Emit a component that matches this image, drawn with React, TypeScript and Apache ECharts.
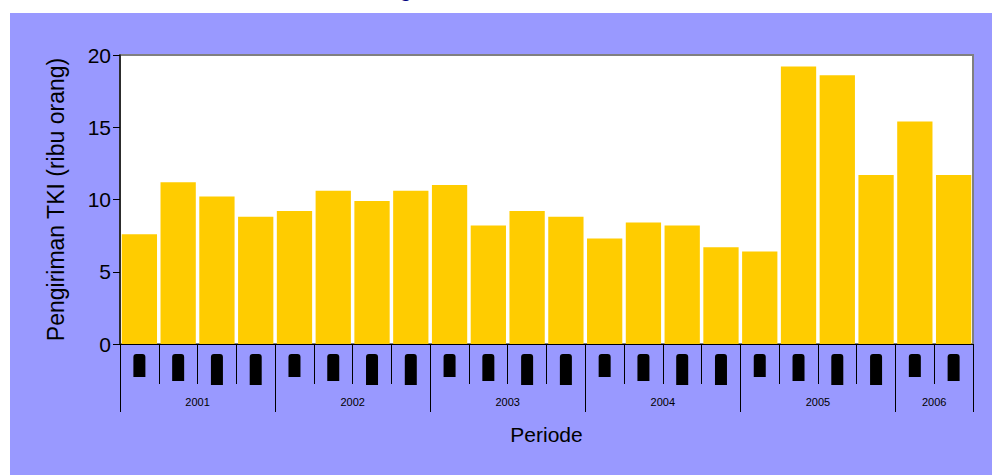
import React, { useEffect, useRef } from "react";
import * as echarts from "echarts";

// Quarterly TKI placements (thousand people), 2001 Q1 – 2006 Q2
const quarterLabels = [
  "I", "II", "III", "IV",
  "I", "II", "III", "IV",
  "I", "II", "III", "IV",
  "I", "II", "III", "IV",
  "I", "II", "III", "IV",
  "I", "II",
];
const tkiValues = [
  7.6, 11.2, 10.2, 8.8,
  9.2, 10.6, 9.9, 10.6,
  11.0, 8.2, 9.2, 8.8,
  7.3, 8.4, 8.2, 6.7,
  6.4, 19.2, 18.6, 11.7,
  15.4, 11.7,
];
const yearLabels = ["2001", "2002", "2003", "2004", "2005", "2006"];
const yearQuarterCounts = [4, 4, 4, 4, 4, 2];
const yTicks = [0, 5, 10, 15, 20];

const FONT = "'Liberation Sans', Arial, sans-serif";

export default function App() {
  const ref = useRef<HTMLDivElement>(null);

  useEffect(() => {
    if (!ref.current) return;
    const chart = echarts.init(ref.current, undefined, { renderer: "svg" });

    // year group boundaries and centres on a 0..n scale
    const boundaries: number[] = [0];
    const centres: number[] = [];
    yearQuarterCounts.forEach((c) => {
      const start = boundaries[boundaries.length - 1];
      centres.push(start + c / 2);
      boundaries.push(start + c);
    });
    const total = boundaries[boundaries.length - 1];

    const blobStyle = (w: number) => ({
      width: w,
      height: 12,
      lineHeight: 12,
      fontSize: 9,
      color: "#000",
      backgroundColor: "#000",
      borderRadius: [0, 3, 3, 0],
      align: "center",
    });
    const quarterStyleName: Record<string, string> = { I: "q1", II: "q2", III: "q3", IV: "q4" };

    chart.setOption({
      animation: false,
      backgroundColor: "#fff",
      textStyle: { fontFamily: FONT },
      graphic: [
        {
          type: "rect",
          z: -100,
          silent: true,
          shape: { x: 10, y: 13, width: 990, height: 470 },
          style: { fill: "#9999FF" },
        },
        {
          type: "text",
          x: 363,
          y: 0,
          silent: true,
          style: {
            text: "Pengiriman TKI",
            fill: "#000080",
            font: `bold 20px ${FONT}`,
            verticalAlign: "bottom",
          },
        },
      ],
      grid: {
        left: 120,
        right: 19,
        top: 55,
        bottom: 131,
        show: true,
        backgroundColor: "#fff",
        borderColor: "#808080",
        borderWidth: 2,
      },
      xAxis: [
        {
          type: "category",
          data: quarterLabels,
          position: "bottom",
          name: "Periode",
          nameLocation: "middle",
          nameGap: 80,
          nameTextStyle: { fontSize: 21, color: "#000", fontFamily: FONT },
          axisLine: { show: true, lineStyle: { color: "#000", width: 1 } },
          axisTick: {
            show: true,
            interval: 0,
            alignWithLabel: false,
            length: 40,
            lineStyle: { color: "#000", width: 1 },
          },
          axisLabel: {
            interval: 0,
            rotate: 90,
            margin: 10,
            formatter: (v: string) => `{${quarterStyleName[v]}|${v}}`,
            rich: {
              q1: blobStyle(23),
              q2: blobStyle(27),
              q3: blobStyle(31),
              q4: blobStyle(31),
            },
          },
          splitLine: { show: false },
        },
        {
          type: "value",
          min: 0,
          max: total,
          position: "bottom",
          axisLine: { show: false },
          axisTick: {
            show: true,
            customValues: boundaries,
            length: 68,
            lineStyle: { color: "#000", width: 1 },
          },
          axisLabel: {
            show: true,
            customValues: centres,
            margin: 52,
            fontSize: 11,
            color: "#000",
            fontFamily: FONT,
            formatter: (v: number) => {
              const i = centres.indexOf(v);
              return i >= 0 ? yearLabels[i] : "";
            },
          },
          splitLine: { show: false },
        },
      ],
      yAxis: {
        type: "value",
        min: yTicks[0],
        max: yTicks[yTicks.length - 1],
        interval: yTicks[1] - yTicks[0],
        name: "Pengiriman TKI (ribu orang)",
        nameLocation: "middle",
        nameGap: 53,
        nameTextStyle: { fontSize: 23, color: "#000", fontFamily: FONT },
        axisLine: { show: true, lineStyle: { color: "#111", width: 1.5 } },
        axisTick: { show: true, length: 7, lineStyle: { color: "#000", width: 1 } },
        axisLabel: { fontSize: 21, color: "#000", margin: 9, fontFamily: FONT },
        splitLine: { show: false },
      },
      series: [
        {
          type: "bar",
          xAxisIndex: 0,
          data: tkiValues,
          barCategoryGap: "9%",
          itemStyle: { color: "#FFCC00" },
        },
      ],
    });

    return () => chart.dispose();
  }, []);

  return (
    <div
      ref={ref}
      style={{ position: "absolute", left: 0, top: 0, width: 992, height: 475 }}
    />
  );
}
